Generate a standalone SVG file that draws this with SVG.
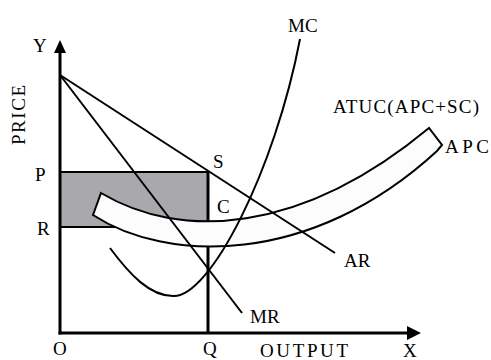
<svg xmlns="http://www.w3.org/2000/svg" width="491" height="360" viewBox="0 0 491 360">
<style>
.t{font-family:'Liberation Serif','Times New Roman',Times,serif;font-size:19px;fill:#000}
.ln{fill:none;stroke:#000;stroke-width:2}
.ax{fill:none;stroke:#000;stroke-width:3}
</style>
<rect width="491" height="360" fill="#fff"/>
<g id="profit-area">
<rect x="60" y="172" width="148" height="55" fill="#a9a9ad"/>
<line class="ln" x1="60" y1="172" x2="208" y2="172"/>
<line class="ln" x1="60" y1="227" x2="208" y2="227"/>
</g>
<g id="q-line"><line class="ax" x1="208" y1="172" x2="208" y2="333"/></g>
<g id="atuc-band">
<path class="ln" style="fill:#fcfcfc" d="M93,215 L101,193 C180,240 300,235 429,128 L442,145 L437,151 C310,268 165,262 93,215 Z"/>
</g>
<g id="connectors">
<path id="mc" class="ln" d="M110,248 C130,275 150,296 173,296 C210,298 275,170 300,39"/>
<line id="ar" class="ln" x1="60" y1="75" x2="335" y2="253"/>
<line id="mr" class="ln" x1="60" y1="75" x2="242" y2="313"/>
</g>
<g id="axes">
<line class="ax" x1="60" y1="50" x2="60" y2="334.5"/>
<line class="ax" x1="58.5" y1="333" x2="408" y2="333"/>
<polygon points="60,40 54,53 66,53"/>
<polygon points="421,333 407,326 407,340"/>
</g>
<g id="labels" font-family="'Liberation Serif', 'Times New Roman', serif" font-size="19">
<text class="t" x="33" y="52">Y</text>
<text class="t" transform="translate(25,115) rotate(-90)" text-anchor="middle" textLength="60" lengthAdjust="spacing">PRICE</text>
<text class="t" x="35" y="181">P</text>
<text class="t" x="37" y="235">R</text>
<text class="t" x="53" y="355">O</text>
<text class="t" x="203" y="355">Q</text>
<text class="t" x="260" y="357" textLength="88" lengthAdjust="spacing">OUTPUT</text>
<text class="t" x="403" y="357">X</text>
<text class="t" x="213" y="168">S</text>
<text class="t" x="217" y="213">C</text>
<text class="t" x="288" y="32">MC</text>
<text class="t" x="333" y="113" textLength="146" lengthAdjust="spacing">ATUC(APC+SC)</text>
<text class="t" x="445" y="153" textLength="44" lengthAdjust="spacing">APC</text>
<text class="t" x="344" y="267">AR</text>
<text class="t" x="250" y="323">MR</text>
</g>
</svg>
